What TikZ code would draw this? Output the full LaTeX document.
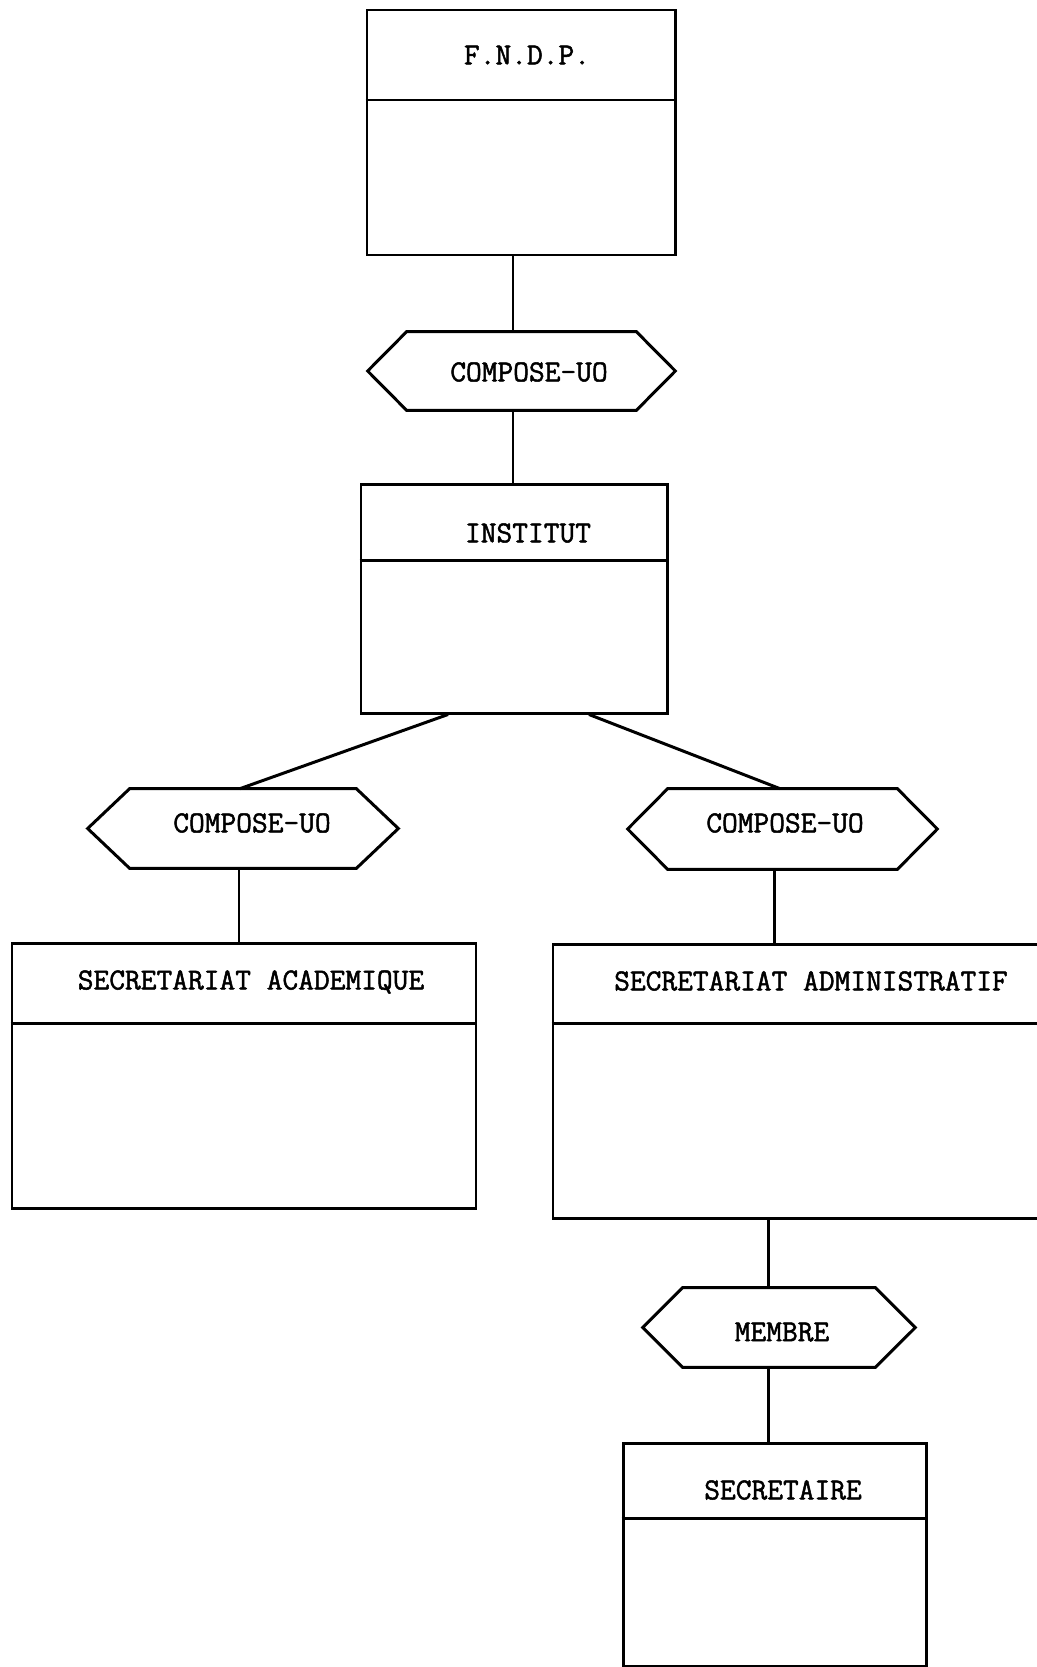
\documentclass[tikz,border=0pt]{standalone}
\usepackage{fontspec}
\newfontfamily\typew{Latin Modern Mono}[FakeBold=1.6]
\usetikzlibrary{fit}
\newcommand\drawhex[2]{%
  \draw[edge] (#1.west) -- ([xshift=#2*0.02cm]#1.north west) -- ([xshift=-#2*0.02cm]#1.north east)
   -- (#1.east) -- ([xshift=-#2*0.02cm]#1.south east) -- ([xshift=#2*0.02cm]#1.south west) -- cycle;}
\begin{document}
\begin{tikzpicture}[x=0.02cm,y=-0.02cm,
  edge/.style={line width=1.7pt, line join=miter},
  entity/.style={draw, line width=1.7pt, inner sep=0pt},
  rel/.style={inner sep=0pt},
  lbl/.style={font=\typew\fontsize{17.4}{20}\selectfont, inner sep=0pt, anchor=center}]
\useasboundingbox (0,0) rectangle (1037,1667);
\fill[white] (0,0) rectangle (1037,1667);

% helper x positions
\coordinate (xa) at (513,0);
\coordinate (xb) at (448,0);
\coordinate (xc) at (240,0);
\coordinate (xd) at (589,0);
\coordinate (xe) at (780,0);
\coordinate (xf) at (239,0);
\coordinate (xg) at (774,0);
\coordinate (xh) at (768,0);
\coordinate (ya) at (0,100);
\coordinate (yb) at (0,560);
\coordinate (yc) at (0,1023);
\coordinate (yd) at (0,1518);

% entities
\node[entity, fit={(367,10) (675,255)}] (fndp) {};
\node[lbl] (fndpT) at (527,55) {F.N.D.P.};
\draw[edge] (fndp.west |- ya) -- (fndp.east |- ya);

\node[entity, fit={(361,484) (667,713)}] (inst) {};
\node[lbl] (instT) at (528,533) {INSTITUT};
\draw[edge] (inst.west |- yb) -- (inst.east |- yb);

\node[entity, fit={(12,943) (476,1208)}] (sacad) {};
\node[lbl] (sacadT) at (251,982) {SECRETARIAT ACADEMIQUE};
\draw[edge] (sacad.west |- yc) -- (sacad.east |- yc);

\node[entity, fit={(553,944) (1045,1218)}] (sadm) {};
\node[lbl] (sadmT) at (811,981) {SECRETARIAT ADMINISTRATIF};
\draw[edge] (sadm.west |- yc) -- (sadm.east |- yc);

\node[entity, fit={(623,1443) (926,1666)}] (secr) {};
\node[lbl] (secrT) at (783,1490) {SECRETAIRE};
\draw[edge] (secr.west |- yd) -- (secr.east |- yd);

% relationships
\node[rel, fit={(368,332) (675,410)}] (h1) {};
\drawhex{h1}{39}
\node[lbl] (h1T) at (529,372) {COMPOSE-UO};

\node[rel, fit={(88,789) (398,868)}] (h2) {};
\drawhex{h2}{42}
\node[lbl] (h2T) at (252,823) {COMPOSE-UO};

\node[rel, fit={(628,789) (937,869)}] (h3) {};
\drawhex{h3}{40}
\node[lbl] (h3T) at (785,823) {COMPOSE-UO};

\node[rel, fit={(643,1288) (915,1367)}] (h4) {};
\drawhex{h4}{40}
\node[lbl] (h4T) at (782,1332) {MEMBRE};

% connectors
\draw[edge] (fndp.south -| xa) -- (h1.north -| xa);
\draw[edge] (h1.south -| xa) -- (inst.north -| xa);
\draw[edge] (inst.south -| xb) -- (h2.north -| xc);
\draw[edge] (inst.south -| xd) -- (h3.north -| xe);
\draw[edge] (h2.south -| xf) -- (sacad.north -| xf);
\draw[edge] (h3.south -| xg) -- (sadm.north -| xg);
\draw[edge] (sadm.south -| xh) -- (h4.north -| xh);
\draw[edge] (h4.south -| xh) -- (secr.north -| xh);
\end{tikzpicture}
\end{document}
